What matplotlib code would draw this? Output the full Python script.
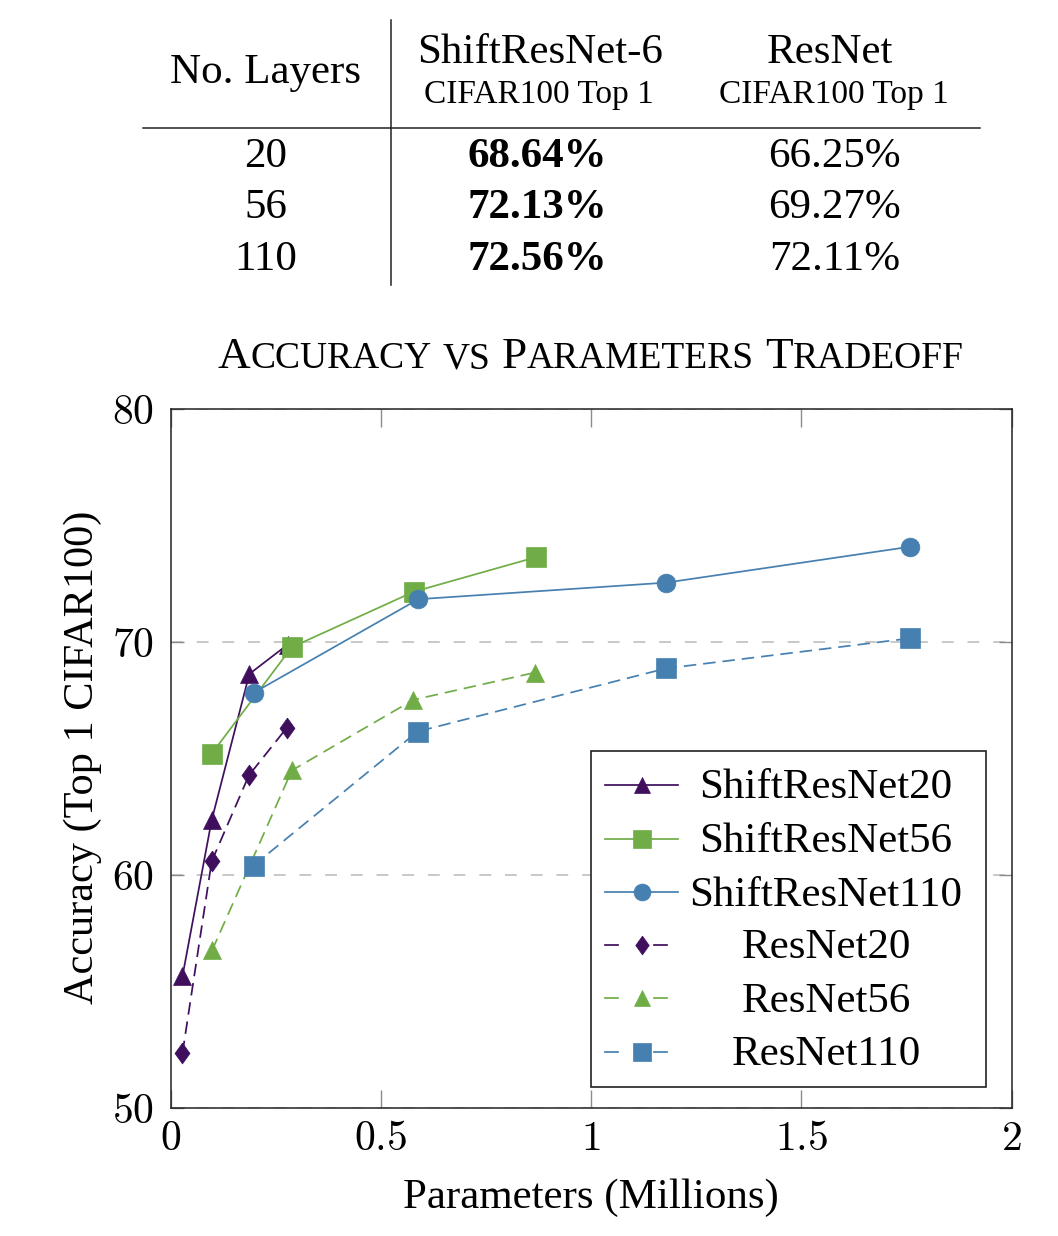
import matplotlib
matplotlib.use("Agg")
import matplotlib.pyplot as plt
from matplotlib.lines import Line2D
from matplotlib.patches import Rectangle
from matplotlib.ticker import FuncFormatter

plt.rcParams['font.family'] = ['Liberation Serif', 'DejaVu Serif']
plt.rcParams['mathtext.fontset'] = 'cm'
plt.rcParams['lines.scale_dashes'] = False

# ---- table data ----
layers = ["20", "56", "110"]
shift_top1 = ["68.64%", "72.13%", "72.56%"]
resnet_top1 = ["66.25%", "69.27%", "72.11%"]

# ---- chart data: parameters (millions) vs top-1 accuracy ----
shift20_x = [0.028, 0.0975, 0.187, 0.278]
shift20_y = [55.67, 62.37, 68.64, 69.9]
shift56_x = [0.0975, 0.288, 0.578, 0.868]
shift56_y = [65.22, 69.79, 72.17, 73.65]
shift110_x = [0.197, 0.589, 1.178, 1.758]
shift110_y = [67.83, 71.85, 72.56, 74.1]
res20_x = [0.028, 0.0975, 0.186, 0.276]
res20_y = [52.37, 60.6, 64.29, 66.33]
res56_x = [0.0985, 0.288, 0.577, 0.866]
res56_y = [56.78, 64.5, 67.53, 68.7]
res110_x = [0.197, 0.587, 1.178, 1.758]
res110_y = [60.42, 66.17, 68.88, 70.17]

x_ticks = [0, 0.5, 1, 1.5, 2]
y_ticks = [50, 60, 70, 80]

PURPLE = '#3f0f5e'
GREEN = '#70ad47'
BLUE = '#4680b0'
DIAMOND = [(0, 1), (0.72, 0), (0, -1), (-0.72, 0), (0, 1)]

series = [
    ("ShiftResNet20", shift20_x, shift20_y, PURPLE, '^', 12.5, False),
    ("ShiftResNet56", shift56_x, shift56_y, GREEN, 's', 14, False),
    ("ShiftResNet110", shift110_x, shift110_y, BLUE, 'o', 13.5, False),
    ("ResNet20", res20_x, res20_y, PURPLE, DIAMOND, 15, True),
    ("ResNet56", res56_x, res56_y, GREEN, '^', 12.5, True),
    ("ResNet110", res110_x, res110_y, BLUE, 's', 14, True),
]

W, H = 1058, 1236


def fx(px):
    return px / W


def fy(py):
    return 1 - py / H


fig = plt.figure(figsize=(W / 100, H / 100), dpi=100)

# ---- table on top ----
tcol = [0.2514, 0.508, 0.7888]
fig.text(0.2512, fy(83.3), "No. Layers", ha='center', va='baseline', fontsize=31)
fig.text(0.5109, fy(62.7), "ShiftResNet-6", ha='center', va='baseline', fontsize=31)
fig.text(0.5094, fy(103.3), "CIFAR100 Top 1", ha='center', va='baseline', fontsize=24)
fig.text(0.7845, fy(62.7), "ResNet", ha='center', va='baseline', fontsize=31)
fig.text(0.7883, fy(103.3), "CIFAR100 Top 1", ha='center', va='baseline', fontsize=24)
row_base = [166.7, 218.3, 270.0]
for i in range(len(layers)):
    fig.text(tcol[0], fy(row_base[i]), layers[i], ha='center', va='baseline', fontsize=31)
    fig.text(tcol[1], fy(row_base[i]), shift_top1[i], ha='center', va='baseline',
             fontsize=31, fontweight='bold')
    fig.text(tcol[2], fy(row_base[i]), resnet_top1[i], ha='center', va='baseline', fontsize=31)
fig.add_artist(Line2D([fx(143), fx(980)], [fy(128.3), fy(128.3)],
                      transform=fig.transFigure, color='#222222', lw=1.1))
fig.add_artist(Line2D([fx(390.7), fx(390.7)], [fy(20), fy(285)],
                      transform=fig.transFigure, color='#222222', lw=1.1))

# ---- chart ----
ax = fig.add_axes([fx(170.7), fy(1108.3), 841 / W, 699 / H])

for name, xs, ys, col, mk, ms, dashed in series:
    kw = dict(color=col, lw=1.25, marker=mk, ms=ms, mfc=col, mec=col, mew=0.5)
    if dashed:
        kw['dashes'] = (9, 5)
    ax.plot(xs, ys, **kw)

ax.set_xlim(0, 2)
ax.set_ylim(50, 80)
ax.set_xticks(x_ticks)
ax.set_yticks(y_ticks)
fmt = FuncFormatter(lambda v, p: r'$%g$' % v)
ax.xaxis.set_major_formatter(fmt)
ax.yaxis.set_major_formatter(fmt)
ax.tick_params(axis='both', direction='in', top=True, right=True,
               color='#8c8c8c', width=1.0, labelsize=30)
ax.tick_params(axis='x', length=13, pad=9)
ax.tick_params(axis='y', length=9.5, pad=12)
ax.yaxis.grid(True, color='#c4c4c4', lw=1.3, linestyle=(0, (8.5, 10)))
ax.set_axisbelow(True)
for s in ax.spines.values():
    s.set_linewidth(1.1)
    s.set_color('#222222')

ax.set_xlabel("Parameters (Millions)", fontsize=31, va='center')
ax.xaxis.set_label_coords(0.5, -0.128)
ax.set_ylabel("Accuracy (Top 1 CIFAR100)", fontsize=30.5, va='center')
ax.yaxis.set_label_coords(-0.104, 0.502)

# ---- legend (pgfplots style, centred labels) ----
ax.add_patch(Rectangle((0.4994, 0.0309), 0.9691 - 0.4994, 0.5116 - 0.0309,
                       transform=ax.transAxes, facecolor='white',
                       edgecolor='#222222', lw=1.2, zorder=5))
leg_y = [0.4625, 0.3853, 0.309, 0.2336, 0.1574, 0.081]
for i, (name, xs, ys, col, mk, ms, dashed) in enumerate(series):
    y = leg_y[i]
    if dashed:
        segs = [(0.5165, 0.5319), (0.5749, 0.5904)]
    else:
        segs = [(0.5165, 0.6037)]
    for a, b in segs:
        ax.plot([a, b], [y, y], transform=ax.transAxes, color=col, lw=1.25, zorder=6)
    ax.plot([0.5601], [y], transform=ax.transAxes, color=col, marker=mk, ms=ms * 0.9,
            mec=col, mfc=col, mew=0.5, zorder=7)
    ax.text(0.7792, y - 0.019, name, transform=ax.transAxes, ha='center',
            va='baseline', fontsize=31, zorder=7)

# ---- small-caps title ----
title_words = ["Accuracy", "vs", "Parameters", "Tradeoff"]
BIG, SMALL = 32.5, 27
parts = []
for w in title_words:
    if w[0].isupper():
        parts.append(fig.text(0, fy(368.3), w[0], fontsize=BIG, va='baseline'))
        parts.append(fig.text(0, fy(368.3), w[1:].upper(), fontsize=SMALL, va='baseline'))
    else:
        parts.append(fig.text(0, fy(368.3), w.upper(), fontsize=SMALL, va='baseline'))
    parts.append(None)
parts = parts[:-1]

renderer = fig.canvas.get_renderer()
gap = 0.3 * SMALL * 100 / 72
widths = [t.get_window_extent(renderer).width if t is not None else gap for t in parts]
total = sum(widths)
x = 590.5 - total / 2
for t, wd in zip(parts, widths):
    if t is not None:
        t.set_x(fx(x))
    x += wd

fig.savefig("out.png", dpi=100)
